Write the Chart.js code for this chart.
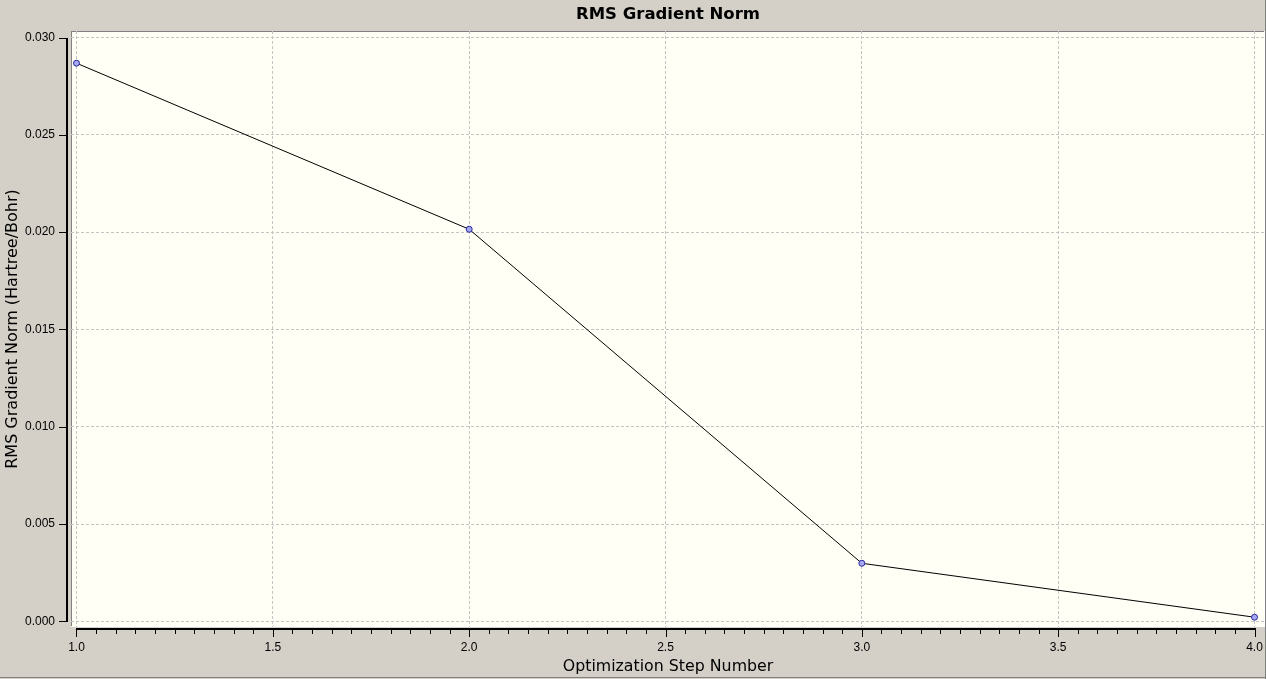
<!DOCTYPE html>
<html>
<head>
<meta charset="utf-8">
<script src="https://cdn.jsdelivr.net/npm/chart.js@4.4.1/dist/chart.umd.min.js"></script>
<style>
  html, body { margin: 0; padding: 0; background: #d4d0c8; }
  canvas { display: block; }
</style>
</head>
<body>
<canvas id="c" width="1266" height="679"></canvas>
<script>
// ---- data ----
const stepNumbers = [1, 2, 3, 4];
const rmsGradientNorm = [0.02868, 0.02015, 0.00299, 0.00022];
const xTickValues = [1.0, 1.5, 2.0, 2.5, 3.0, 3.5, 4.0];
const yTickValues = [0.000, 0.005, 0.010, 0.015, 0.020, 0.025, 0.030];
const chartTitle = 'RMS Gradient Norm';
const xTitle = 'Optimization Step Number';
const yTitle = 'RMS Gradient Norm (Hartree/Bohr)';

const xMinorStep = 0.05;

const framePlugin = {
  id: 'frame',
  beforeDraw(chart) {
    const ctx = chart.ctx;
    const a = chart.chartArea;
    ctx.save();
    ctx.fillStyle = '#d4d0c8';
    ctx.fillRect(0, 0, chart.width, chart.height);
    // outer bevel
    ctx.fillStyle = '#808080';
    ctx.fillRect(0, chart.height - 2, chart.width, 1);
    ctx.fillRect(chart.width - 1, 0, 1, chart.height);
    // plot area
    ctx.fillStyle = '#fffff5';
    ctx.fillRect(a.left, a.top, a.right - a.left, a.bottom - a.top);
    ctx.fillStyle = '#808080';
    ctx.fillRect(a.left, a.top, a.right - a.left, 1);
    ctx.fillRect(a.left, a.top, 1, a.bottom - a.top);
    ctx.fillStyle = '#ffffff';
    ctx.fillRect(a.left, a.bottom - 1, a.right - a.left, 1);
    ctx.fillRect(a.right - 1, a.top, 1, a.bottom - a.top);
    ctx.restore();
  },
  afterDraw(chart) {
    const ctx = chart.ctx;
    const a = chart.chartArea;
    const xs = chart.scales.x, ys = chart.scales.y;
    ctx.save();
    ctx.fillStyle = '#000000';
    // y axis line (offset left of plot)
    const yTop = Math.round(ys.getPixelForValue(yTickValues[yTickValues.length - 1]));
    const yBot = Math.round(ys.getPixelForValue(yTickValues[0]));
    const yAxisX = a.left - 3;
    ctx.fillRect(yAxisX - 2, yTop, 2, yBot - yTop + 1);
    yTickValues.forEach(v => {
      const py = Math.round(ys.getPixelForValue(v));
      ctx.fillRect(yAxisX - 9, py, 8, 1);
    });
    // x axis line (below plot)
    const xL = Math.round(xs.getPixelForValue(xTickValues[0]));
    const xR = Math.round(xs.getPixelForValue(xTickValues[xTickValues.length - 1]));
    const xAxisY = a.bottom + 1;
    ctx.fillRect(xL, xAxisY, xR - xL + 1, 2);
    const nMinor = Math.round((xTickValues[xTickValues.length - 1] - xTickValues[0]) / xMinorStep);
    for (let i = 0; i <= nMinor; i++) {
      const v = xTickValues[0] + i * xMinorStep;
      const px = Math.round(xs.getPixelForValue(v));
      const major = xTickValues.some(t => Math.abs(t - v) < 1e-6);
      ctx.fillRect(px, xAxisY + 2, 1, major ? 7 : 4);
    }
    ctx.restore();
  }
};

new Chart(document.getElementById('c'), {
  type: 'line',
  data: {
    datasets: [{
      data: stepNumbers.map((x, i) => ({ x: x, y: rmsGradientNorm[i] })),
      borderColor: '#000000',
      borderWidth: 1,
      backgroundColor: '#a8a8f0',
      pointBackgroundColor: '#a8a8f0',
      pointBorderColor: '#2828a0',
      pointBorderWidth: 1,
      pointRadius: 3,
      pointHoverRadius: 3,
      tension: 0,
      fill: false
    }]
  },
  options: {
    responsive: false,
    animation: false,
    events: [],
    layout: { autoPadding: false, padding: { left: 0, right: 1, top: 0, bottom: 0 } },
    plugins: {
      legend: { display: false },
      tooltip: { enabled: false },
      title: {
        display: true,
        text: chartTitle,
        fullSize: false,
        color: '#000000',
        font: { family: 'DejaVu Sans', size: 16.5, weight: 'bold', lineHeight: 1.2 },
        padding: { top: 5, bottom: 6.2 }
      }
    },
    scales: {
      x: {
        type: 'linear',
        min: 0.986,
        max: 4.0267,
        afterBuildTicks(scale) { scale.ticks = xTickValues.map(v => ({ value: v })); },
        afterFit(scale) { scale.height = 52; scale.paddingLeft = 0; scale.paddingRight = 0; },
        grid: { color: '#c4c4c4', lineWidth: 1, drawTicks: true, tickLength: 13, tickColor: 'rgba(0,0,0,0)' },
        border: { display: false, dash: [3, 2] },
        ticks: {
          color: '#000000',
          font: { family: 'Liberation Sans', size: 12 },
          padding: 0,
          maxRotation: 0,
          autoSkip: false,
          callback: (v) => Number(v).toFixed(1)
        },
        title: {
          display: true,
          text: xTitle,
          color: '#000000',
          font: { family: 'DejaVu Sans', size: 15.8, lineHeight: 1.2 },
          padding: { top: 0, bottom: 3 }
        }
      },
      y: {
        type: 'linear',
        min: -0.000283,
        max: 0.030334,
        afterBuildTicks(scale) { scale.ticks = yTickValues.map(v => ({ value: v })); },
        afterFit(scale) { scale.width = 71; },
        grid: { color: '#c4c4c4', lineWidth: 1, drawTicks: false },
        border: { display: false, dash: [3, 2] },
        ticks: {
          color: '#000000',
          font: { family: 'Liberation Sans', size: 12 },
          padding: 16,
          autoSkip: false,
          callback: (v) => Number(v).toFixed(3)
        },
        title: {
          display: true,
          text: yTitle,
          color: '#000000',
          font: { family: 'DejaVu Sans', size: 16, lineHeight: 1.2 },
          padding: { top: 3, bottom: 0 }
        }
      }
    }
  },
  plugins: [framePlugin]
});
</script>
</body>
</html>
